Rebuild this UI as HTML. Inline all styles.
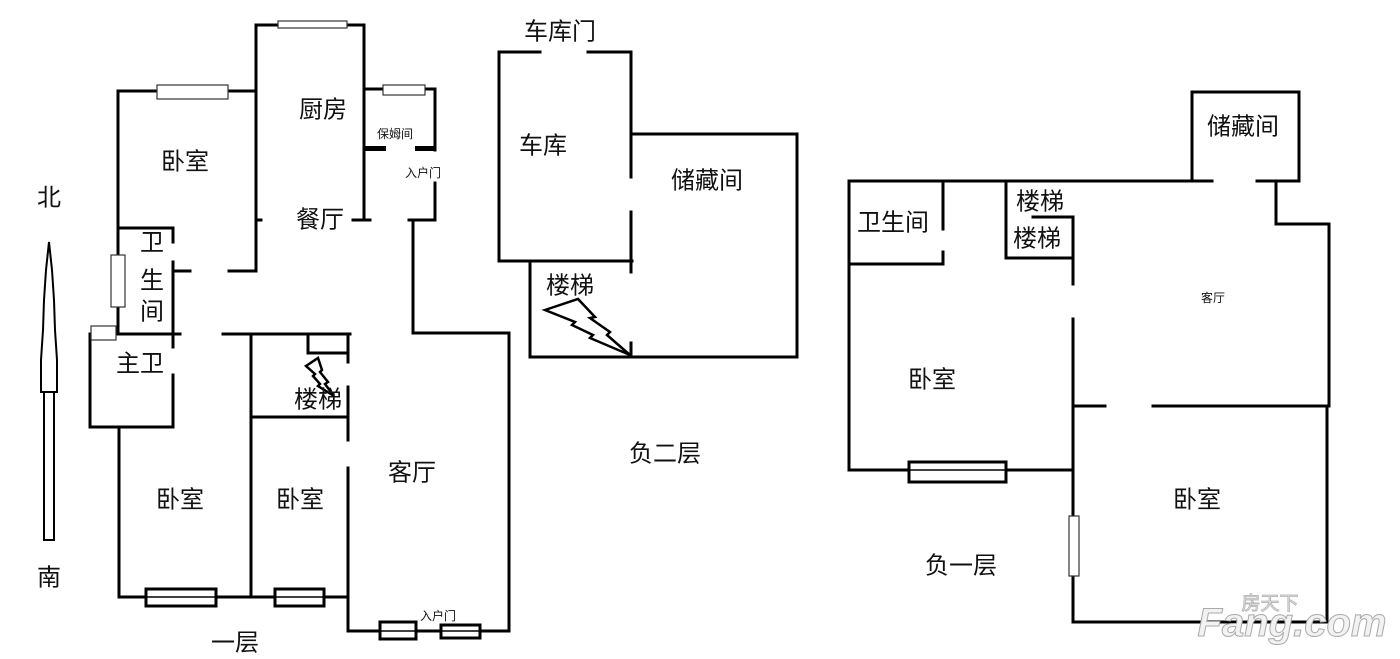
<!DOCTYPE html>
<html><head><meta charset="utf-8"><style>
html,body{margin:0;padding:0;background:#fff;}
svg{display:block}
text{font-family:"Liberation Sans","Noto Sans CJK SC",sans-serif;fill:#111;text-anchor:middle;dominant-baseline:central}
</style></head><body>
<svg width="1400" height="659" viewBox="0 0 1400 659" xmlns="http://www.w3.org/2000/svg">
<rect width="1400" height="659" fill="#fff"/>
<g stroke="#000" stroke-width="3" fill="none" stroke-linecap="square">
<polyline points="256,271 256,25 364,25 364,220"/>
<line x1="353" y1="220" x2="370" y2="220"/>
<polyline points="118,228 118,91 256,91"/>
<line x1="256" y1="220" x2="261" y2="220"/>
<line x1="118" y1="228" x2="173" y2="228"/>
<line x1="173" y1="228" x2="173" y2="242"/>
<line x1="173" y1="262" x2="173" y2="347"/>
<line x1="173" y1="271" x2="190" y2="271"/>
<line x1="229" y1="271" x2="256" y2="271"/>
<line x1="118" y1="228" x2="118" y2="334"/>
<polyline points="364,89 435,89 435,150"/>
<line x1="435" y1="183" x2="435" y2="220"/>
<polyline points="409,220 413,220 413,333 509,333 509,631 348,631"/>
<line x1="413" y1="220" x2="435" y2="220"/>
<line x1="90" y1="334" x2="180" y2="334"/>
<line x1="223" y1="334" x2="350" y2="334"/>
<polyline points="90,334 90,427 173,427 173,375"/>
<polyline points="119,427 119,597 348,597"/>
<line x1="251" y1="334" x2="251" y2="597"/>
<line x1="251" y1="417" x2="348" y2="417"/>
<polyline points="308,334 308,353 347,353"/>
<line x1="348" y1="334" x2="348" y2="362"/>
<line x1="348" y1="387" x2="348" y2="440"/>
<line x1="348" y1="468" x2="348" y2="631"/>
<polyline points="540,52 499,52 499,261 632,261"/>
<line x1="588" y1="52" x2="631" y2="52"/>
<line x1="631" y1="52" x2="631" y2="177"/>
<line x1="631" y1="212" x2="631" y2="272"/>
<line x1="631" y1="343" x2="631" y2="357"/>
<polyline points="631,134 797,134 797,357 530,357 530,261"/>
<polyline points="1192,181 1192,92 1299,92 1299,181 1257,181"/>
<line x1="849" y1="181" x2="1212" y2="181"/>
<polyline points="1276,181 1276,224 1329,224 1329,406"/>
<polyline points="1327,406 1327,622 1073,622 1073,319"/>
<polyline points="849,181 849,470 1073,470"/>
<line x1="849" y1="264" x2="943" y2="264"/>
<line x1="943" y1="181" x2="943" y2="229"/>
<line x1="943" y1="252" x2="943" y2="264"/>
<polyline points="1006,181 1006,258 1073,258"/>
<polyline points="1033,217 1073,217 1073,284"/>
<line x1="1073" y1="406" x2="1105" y2="406"/>
<line x1="1153" y1="406" x2="1329" y2="406"/>
</g>
<g fill="#000">
<rect x="364" y="146" width="22" height="5"/>
<rect x="415" y="146" width="20" height="5"/>
</g>
<g fill="#fff" stroke="#333" stroke-width="1.2">
<rect x="278" y="21" width="69" height="7"/>
<rect x="157" y="85" width="71" height="14"/>
<rect x="383" y="85" width="42" height="10"/>
<rect x="111" y="255" width="14" height="52"/>
<rect x="91" y="326" width="25" height="14"/>
<rect x="1069" y="516" width="10" height="60"/>
</g>
<g fill="#fff" stroke="#000" stroke-width="3">
<rect x="146" y="589" width="70" height="17"/>
<line x1="146" y1="597" x2="216" y2="597" stroke-width="1.5"/>
<rect x="275" y="589" width="49" height="17"/>
<line x1="275" y1="597" x2="324" y2="597" stroke-width="1.5"/>
<rect x="380" y="622" width="36" height="17"/>
<line x1="380" y1="631" x2="416" y2="631" stroke-width="1.5"/>
<rect x="441" y="625" width="39" height="13"/>
<line x1="441" y1="631" x2="480" y2="631" stroke-width="1.5"/>
<rect x="909" y="462" width="97" height="20"/>
<line x1="909" y1="470" x2="1006" y2="470" stroke-width="1.5"/>
</g>
<g fill="#fff" stroke="#000" stroke-width="2.5" stroke-linejoin="miter">
<polygon points="545,310 578,299 595,317 590,318 610,332 607,335 630,355 590,338 593,335 572,325 575,322"/>
<polygon points="306,366 318,358 322,370 320,372 328,382 325,384 334,396 318,386 320,384 313,376 315,374"/>
</g>
<g fill="#fff" stroke="#000" stroke-width="2">
<rect x="44" y="388" width="10" height="152"/>
<polygon points="49,242 52,270 54,300 55,330 57,360 57,392 41,392 41,360 43,330 44,300 46,270"/>
</g>
<g font-size="24">
<text x="49" y="198">北</text>
<text x="49" y="578">南</text>
<text x="185" y="162">卧室</text>
<text x="323" y="110">厨房</text>
<text x="320" y="220">餐厅</text>
<text x="152" y="243">卫</text>
<text x="152" y="281">生</text>
<text x="152" y="312">间</text>
<text x="140" y="364">主卫</text>
<text x="318" y="400">楼梯</text>
<text x="180" y="500">卧室</text>
<text x="300" y="500">卧室</text>
<text x="412" y="473">客厅</text>
<text x="235" y="643">一层</text>
<text x="560" y="32">车库门</text>
<text x="543" y="146">车库</text>
<text x="707" y="181">储藏间</text>
<text x="570" y="286">楼梯</text>
<text x="665" y="454">负二层</text>
<text x="1243" y="127">储藏间</text>
<text x="893" y="223">卫生间</text>
<text x="1040" y="202">楼梯</text>
<text x="1037" y="239">楼梯</text>
<text x="932" y="380">卧室</text>
<text x="1197" y="500">卧室</text>
<text x="961" y="566">负一层</text>
</g>
<g font-size="12">
<text x="395" y="134">保姆间</text>
<text x="423" y="173">入户门</text>
<text x="438" y="616">入户门</text>
<text x="1213" y="298">客厅</text>
</g>
<g>
<text x="1270" y="604" font-size="19" style="fill:#eee;stroke:#bbb;stroke-width:1">房天下</text>
<text x="1292" y="623" font-size="40" font-weight="bold" font-style="italic" style="fill:#f2f2f2;stroke:#aaa;stroke-width:1">Fang.com</text>
</g>
</svg>
</body></html>
